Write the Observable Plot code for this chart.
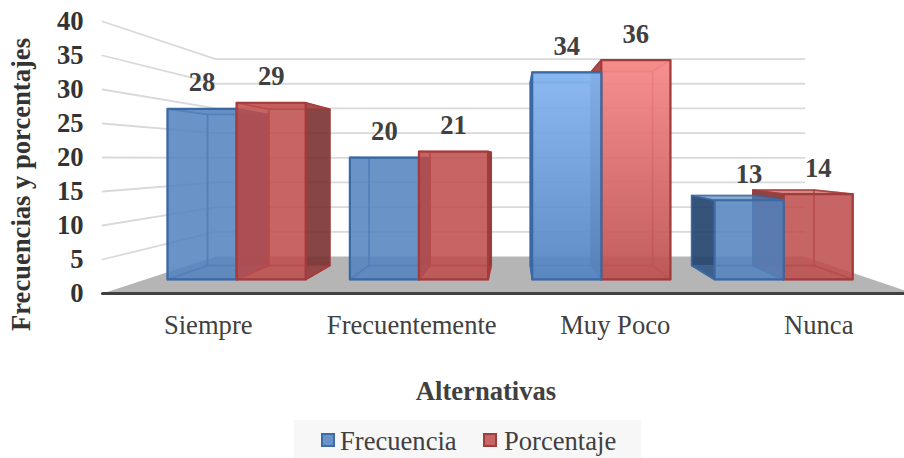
<!DOCTYPE html>
<html>
<head>
<meta charset="utf-8">
<script src="https://cdn.jsdelivr.net/npm/d3@7"></script>
<script src="https://cdn.jsdelivr.net/npm/@observablehq/plot@0.6"></script>
<style>
html,body{margin:0;padding:0;background:#fff;overflow:hidden}
body{width:904px;height:458px;position:relative;font-family:"Liberation Serif",serif;color:#404040}
#xt{position:absolute;left:286px;width:400px;top:373px;text-align:center;font-weight:bold;font-size:26.6px;line-height:36px}
#lg{position:absolute;left:294px;top:420px;width:347px;height:38px;background:#f7f7f7;font-size:26.6px;line-height:38px;white-space:nowrap}
#lg i{position:absolute;top:13px;width:14px;height:14px;box-sizing:border-box;border:2px solid}
#lg span{position:absolute;top:2px}
svg text{font-family:"Liberation Serif",serif}
</style>
</head>
<body>
<div id="chart"></div>
<div id="xt">Alternativas</div>
<div id="lg">
<i style="left:27px;background:#6a93c7;border-color:#3d6ca6"></i><span style="left:46px">Frecuencia</span>
<i style="left:189px;background:#c76565;border-color:#a03c3c"></i><span style="left:210px">Porcentaje</span>
</div>
<script>
const categories = ["Siempre", "Frecuentemente", "Muy Poco", "Nunca"];
const frecuencia = [28, 20, 34, 13];
const porcentaje = [29, 21, 36, 14];
const yTicks = [0, 5, 10, 15, 20, 25, 30, 35, 40];
const gridLevels = [5, 10, 15, 20, 25, 30, 35, 40];

// one-point perspective: s is the shrink factor at a given depth
const VX = 2.03, VY = 19.85;
const WALL = 0.726, BAR_NEAR = 0.896, BAR_FAR = 0.793;
const X_MAX = 3.985, HALF = 0.379, CENTER = 0.5;
const P = (x, v, s) => ({x: VX + (x - VX) * s, y: VY + (v - VY) * s});

const palette = {
  blue: {front: "#5483bf", back: "#4f81bd", dark: "#1d3d65", stroke: "#3a69a4", glow: "url(#glowBlue)"},
  red:  {front: "#be4e4e", back: "#c0504d", dark: "#753030", stroke: "#a33b3b", glow: "url(#glowRed)"}
};

function poly(points, o) {
  const pts = [...points, points[0]];
  return Plot.line(pts, {x: "x", y: "y", curve: "linear", strokeLinejoin: "round", ...o});
}

function bar(x0, x1, v, pal, glow) {
  const c = (x, h, s) => P(x, h, s);
  const sN = BAR_NEAR, sF = BAR_FAR;
  const leftDark = x0 > VX, rightDark = x1 < VX;
  const soft = {fill: pal.back, fillOpacity: 0.35, stroke: pal.stroke, strokeOpacity: 0.7, strokeWidth: 1.6};
  const hard = {fill: pal.dark, fillOpacity: 0.85, stroke: pal.stroke, strokeOpacity: 0.9, strokeWidth: 1.6};
  return [
    poly([c(x0,0,sF), c(x1,0,sF), c(x1,v,sF), c(x0,v,sF)], soft),
    poly([c(x0,0,sN), c(x0,0,sF), c(x0,v,sF), c(x0,v,sN)], leftDark ? hard : soft),
    poly([c(x1,0,sN), c(x1,0,sF), c(x1,v,sF), c(x1,v,sN)], rightDark ? hard : soft),
    poly([c(x0,0,sN), c(x1,0,sN), c(x1,0,sF), c(x0,0,sF)], soft),
    poly([c(x0,v,sN), c(x1,v,sN), c(x1,v,sF), c(x0,v,sF)], {...soft, fillOpacity: 0.5}),
    poly([c(x0,0,sN), c(x1,0,sN), c(x1,v,sN), c(x0,v,sN)],
      {fill: glow ? pal.glow : pal.front, fillOpacity: glow ? 0.9 : 0.8, stroke: pal.stroke, strokeWidth: 2.2})
  ];
}

const barMarks = categories.flatMap((_, i) => {
  const m = i + CENTER;
  const glow = categories[i] === "Muy Poco";
  const blue = bar(m - HALF, m, frecuencia[i], palette.blue, glow);
  const red = bar(m, m + HALF, porcentaje[i], palette.red, glow);
  // paint the bar farther from the viewing axis first
  return m < VX ? [...blue, ...red] : [...red, ...blue];
});

const defs = () => {
  const s = d3.create("svg:defs");
  const g = (id, a, b) => {
    const l = s.append("linearGradient").attr("id", id).attr("x1", 0).attr("x2", 0).attr("y1", 0).attr("y2", 1);
    l.append("stop").attr("offset", 0).attr("stop-color", a);
    l.append("stop").attr("offset", 1).attr("stop-color", b);
  };
  g("glowBlue", "#86b6f2", "#5484c0");
  g("glowRed", "#f88a8a", "#bd5252");
  return s.node();
};

const labels = categories.flatMap((_, i) => {
  const m = i + CENTER;
  return [
    {...P(m - HALF / 2, frecuencia[i], BAR_NEAR), t: frecuencia[i]},
    {...P(m + HALF / 2, porcentaje[i], BAR_NEAR), t: porcentaje[i]}
  ];
});

const plot = Plot.plot({
  width: 904, height: 368,
  marginTop: 0, marginBottom: 0, marginLeft: 0, marginRight: 0,
  x: {domain: [0, 4], range: [102, 916]},
  y: {domain: [0, 40], range: [293, 21]},
  style: {background: "transparent", overflow: "hidden"},
  marks: [
    defs,
    ...gridLevels.map(v => Plot.line([P(0, v, 1), P(0, v, WALL), P(X_MAX, v, WALL)],
      {x: "x", y: "y", stroke: "#d9d9d9", strokeWidth: 1.8})),
    poly([P(0, 0, 1), P(X_MAX, 0, 1), P(X_MAX, 0, WALL), P(0, 0, WALL)], {fill: "#b5b5b5"}),
    Plot.line([P(0, 0, 1), P(X_MAX, 0, 1)], {x: "x", y: "y", stroke: "#404040", strokeWidth: 3.2, strokeLinecap: "round"}),
    ...barMarks,
    Plot.axisY(yTicks, {anchor: "left", x: 0, tickSize: 0, tickPadding: 19, label: null,
      fontSize: 26.6, fontWeight: "bold", fill: "#333"}),
    Plot.axisX(categories.map((_, i) => i + 0.5), {anchor: "bottom", y: 0, tickSize: 0, tickPadding: 22, label: null,
      tickFormat: d => categories[Math.floor(d)], fontSize: 26.6, fill: "#404040", dx: 4}),
    Plot.text(labels, {x: "x", y: "y", text: "t", dy: -26, fontSize: 26.6, fontWeight: "bold", fill: "#404040"}),
    Plot.text(["Frecuencias y porcentajes"], {frameAnchor: "left", textAnchor: "middle", rotate: -90, dx: 21, fontSize: 26.6, fontWeight: "bold", fill: "#333"})
  ]
});
document.getElementById("chart").appendChild(plot);
</script>
</body>
</html>
